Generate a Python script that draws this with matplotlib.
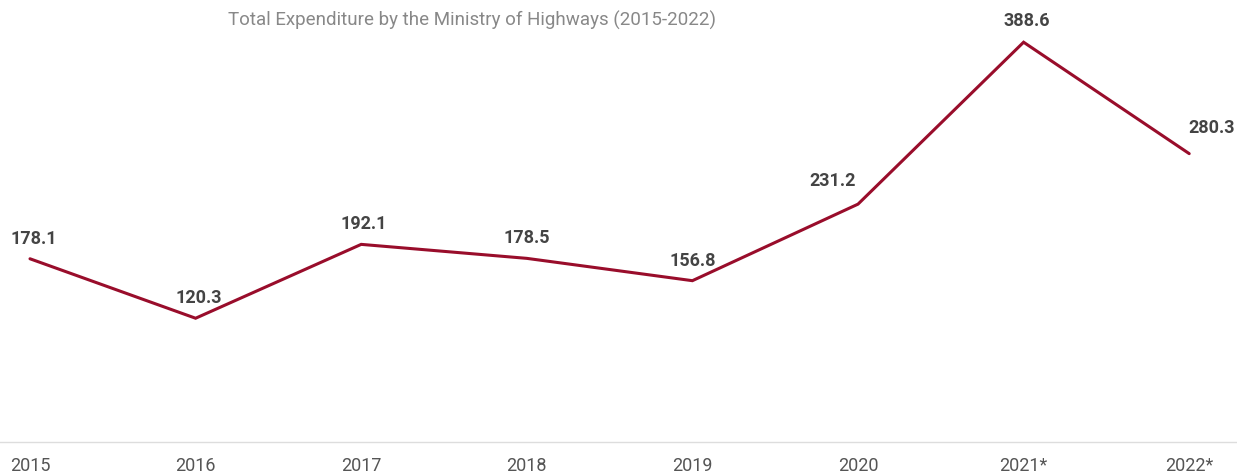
import numpy as np
import matplotlib.pyplot as plt

plt.rcParams['font.family'] = ['Roboto', 'DejaVu Sans']

years = ["2015", "2016", "2017", "2018", "2019", "2020", "2021*", "2022*"]
spend = [178.1, 120.3, 192.1, 178.5, 156.8, 231.2, 388.6, 280.3]
# label offsets in points (dx, dy) from each point
offsets = [(3, 8), (2, 8), (2, 8), (0, 8), (0, 8), (-18, 10), (2, 9), (16, 12)]

fig = plt.figure(figsize=(12.37, 4.76), dpi=100)
ax = fig.add_axes([0, 34 / 476, 1, 442 / 476])

x = np.arange(len(years))
ax.plot(x, spend, color='#990d2b', lw=2.2, solid_capstyle='round', solid_joinstyle='miter')

for xi, v, (dx, dy) in zip(x, spend, offsets):
    ax.annotate(f"{v:.1f}", (xi, v), xytext=(dx, dy), textcoords='offset points',
                ha='center', va='bottom', fontsize=13, fontweight='bold', color='#444444')

ax.set_xlim(-30 / 165.6, (1237 - 30) / 165.6)
ax.set_ylim(0, 442 / 1.0324 + 1.5)

for s in ['top', 'right', 'left']:
    ax.spines[s].set_visible(False)
ax.spines['bottom'].set_color('#dddddd')
ax.spines['bottom'].set_linewidth(1)
ax.set_yticks([])
ax.set_xticks(x)
ax.set_xticklabels(years, fontsize=13, color='#555555')
ax.tick_params(axis='x', length=0, pad=11)

fig.text(472 / 1237, 1 - 20 / 476, "Total Expenditure by the Ministry of Highways (2015-2022)",
         ha='center', va='center', fontsize=13.5, color='#888888')

fig.savefig('out.png', dpi=100)
